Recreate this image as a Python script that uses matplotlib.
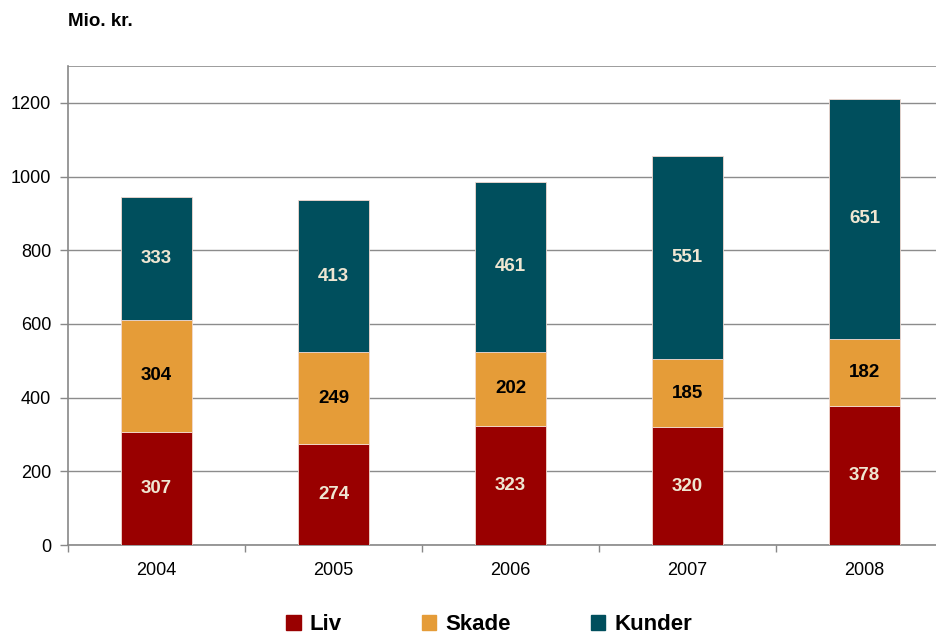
import matplotlib.pyplot as plt
from matplotlib.patches import Patch

plt.rcParams['font.family'] = ['Liberation Sans', 'DejaVu Sans']

years = ['2004', '2005', '2006', '2007', '2008']
liv = [307, 274, 323, 320, 378]
skade = [304, 249, 202, 185, 182]
kunder = [333, 413, 461, 551, 651]

c_liv = '#990000'
c_skade = '#E59C38'
c_kunder = '#004F5D'
c_light = '#EFE6D2'

fig = plt.figure(figsize=(9.37, 6.35), dpi=100)
W, H = 937, 635
ax = fig.add_axes([68 / W, (635 - 545) / H, (953 - 68) / W, (545 - 66) / H])

x = list(range(len(years)))
bottom2 = [a + b for a, b in zip(liv, skade)]
kw = dict(width=0.4, edgecolor='#F2D9D0', linewidth=0.6, zorder=3)
ax.bar(x, liv, color=c_liv, **kw)
ax.bar(x, skade, bottom=liv, color=c_skade, **kw)
ax.bar(x, kunder, bottom=bottom2, color=c_kunder, **kw)

for i in x:
    ax.text(i, liv[i] / 2, str(liv[i]), ha='center', va='center',
            color=c_light, fontsize=13.5, fontweight='bold', zorder=4)
    ax.text(i, liv[i] + skade[i] / 2, str(skade[i]), ha='center', va='center',
            color='black', fontsize=13.5, fontweight='bold', zorder=4)
    ax.text(i, bottom2[i] + kunder[i] / 2, str(kunder[i]), ha='center', va='center',
            color=c_light, fontsize=13.5, fontweight='bold', zorder=4)

ax.set_xlim(-0.5, 4.5)
ax.set_ylim(0, 1300)
ax.set_yticks(range(0, 1201, 200))
ax.set_xticks(x)
ax.set_xticklabels(years)
ax.set_xticks([i + 0.5 for i in range(-1, 5)], minor=True)
ax.tick_params(axis='x', which='major', length=0, pad=12, labelsize=13)
ax.tick_params(axis='x', which='minor', length=5, color='#888888', width=1)
ax.tick_params(axis='y', length=6, color='#888888', width=1, labelsize=13, pad=6)

ax.yaxis.grid(True, color='#8C8C8C', linewidth=1, zorder=0)
ax.axhline(1300, color='#8C8C8C', linewidth=1.2, zorder=0)
ax.set_axisbelow(True)
for s in ['top', 'right']:
    ax.spines[s].set_visible(False)
for s in ['left', 'bottom']:
    ax.spines[s].set_color('#888888')
    ax.spines[s].set_linewidth(1.2)

fig.text(68 / W, 1 - 22 / H, 'Mio. kr.', ha='left', va='center',
         fontsize=13.5, fontweight='bold')

handles = [Patch(color=c_liv), Patch(color=c_skade), Patch(color=c_kunder)]
fig.legend(handles, ['Liv', 'Skade', 'Kunder'], loc='center',
           bbox_to_anchor=(0.522, 1 - 625 / H), ncol=3, frameon=False,
           prop={'size': 16, 'weight': 'bold'}, handlelength=0.65,
           handleheight=0.65, handletextpad=0.4, columnspacing=3.6)

fig.savefig('out.png', dpi=100)
